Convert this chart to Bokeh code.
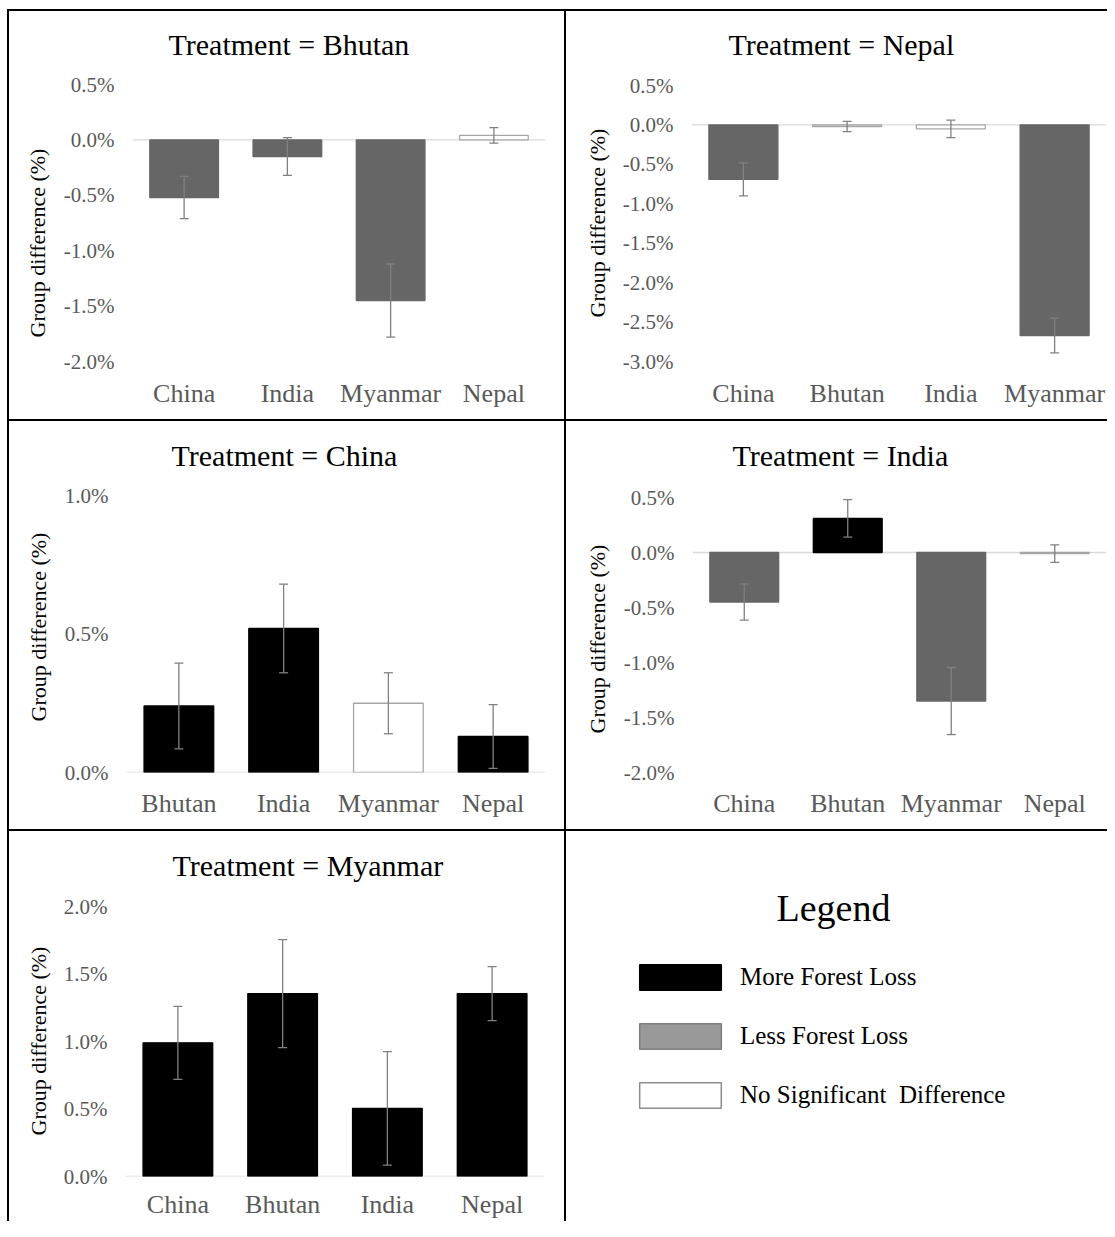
from bokeh.plotting import figure
from bokeh.models import (ColumnDataSource, FactorRange, Range1d, FixedTicker, PrintfTickFormatter,
                          Whisker, TeeHead, Span, Legend, LegendItem, Label, Title, Row, Column)
from bokeh.embed import file_html
from bokeh.resources import INLINE

FONT = "Liberation Serif"

# ---------------- data ----------------
bhutan_cats = ["China", "India", "Myanmar", "Nepal"]
bhutan_vals = [-0.52, -0.15, -1.45, 0.04]
bhutan_err = [0.19, 0.17, 0.33, 0.07]
bhutan_sig = ["less", "less", "less", "none"]
bhutan_ticks = [-2.0, -1.5, -1.0, -0.5, 0.0, 0.5]

nepal_cats = ["China", "Bhutan", "India", "Myanmar"]
nepal_vals = [-0.69, -0.02, -0.05, -2.67]
nepal_err = [0.21, 0.065, 0.11, 0.22]
nepal_sig = ["less", "none", "none", "less"]
nepal_ticks = [-3.0, -2.5, -2.0, -1.5, -1.0, -0.5, 0.0, 0.5]

china_cats = ["Bhutan", "India", "Myanmar", "Nepal"]
china_vals = [0.24, 0.52, 0.25, 0.13]
china_err = [0.155, 0.16, 0.11, 0.115]
china_sig = ["more", "more", "none", "more"]
china_ticks = [0.0, 0.5, 1.0]

india_cats = ["China", "Bhutan", "Myanmar", "Nepal"]
india_vals = [-0.45, 0.31, -1.35, -0.01]
india_err = [0.165, 0.17, 0.305, 0.08]
india_sig = ["less", "more", "less", "none"]
india_ticks = [-2.0, -1.5, -1.0, -0.5, 0.0, 0.5]

myanmar_cats = ["China", "Bhutan", "India", "Nepal"]
myanmar_vals = [0.99, 1.355, 0.505, 1.355]
myanmar_err = [0.27, 0.40, 0.42, 0.20]
myanmar_sig = ["more", "more", "more", "more"]
myanmar_ticks = [0.0, 0.5, 1.0, 1.5, 2.0]

y_title = "Group difference (%)"
legend_labels = ["More Forest Loss", "Less Forest Loss", "No Significant  Difference"]

# ---------------- styles ----------------
FILL = {"more": "#000000", "less": "#666666", "none": "#ffffff"}
LINE = {"more": "#000000", "less": "#666666", "none": "#a6a6a6"}
BORDER = {"box-shadow": "-2px 0 0 0 black, 0 -2px 0 0 black, -2px -2px 0 0 black"}


def panel(title, cats, vals, errs, sig, ticks, w, h, fl, fw, top_px, fbot, tx, ty, yt_off, yt_stand, xls):
    # frame spans from the top of the cell down to fbot; the top tick sits at top_px
    lo, hi = ticks[0], ticks[-1]
    data_h = fbot - top_px
    y_end = hi + top_px / data_h * (hi - lo)
    p = figure(width=w, height=h, output_backend="svg", toolbar_location=None,
               x_range=FactorRange(factors=cats, range_padding=0),
               y_range=Range1d(lo, y_end),
               min_border_left=fl, min_border_right=w - fl - fw,
               min_border_top=0, min_border_bottom=h - fbot)
    p.styles = BORDER
    p.title.visible = False
    p.add_layout(Label(text=title, x=tx, y=ty, x_units="canvas", y_units="canvas",
                       text_font=FONT, text_font_size="30px", text_color="black",
                       text_baseline="middle", text_align="left"))
    p.add_layout(Title(text=y_title, align="left", offset=yt_off, standoff=yt_stand,
                       text_font=FONT, text_font_size="22px", text_font_style="normal",
                       text_color="black"), "left")

    src = ColumnDataSource(dict(
        cat=cats, val=vals,
        upper=[v + e for v, e in zip(vals, errs)],
        lower=[v - e for v, e in zip(vals, errs)],
        fill=[FILL[s] for s in sig], line=[LINE[s] for s in sig]))

    p.add_layout(Span(location=0, dimension="width", line_color="#d9d9d9",
                      line_width=1.3, level="underlay"))
    p.vbar(x="cat", top="val", bottom=0, width=0.665, fill_color="fill",
           line_color="line", line_width=1.3, source=src)
    wh = Whisker(base="cat", upper="upper", lower="lower", source=src,
                 line_color="#808080", line_width=1.3, level="overlay",
                 upper_head=TeeHead(size=9, line_color="#808080", line_width=1.3),
                 lower_head=TeeHead(size=9, line_color="#808080", line_width=1.3))
    p.add_layout(wh)

    p.xgrid.visible = False
    p.ygrid.visible = False
    p.outline_line_color = None
    p.background_fill_color = "white"
    p.border_fill_color = "white"

    ya = p.yaxis[0]
    ya.ticker = FixedTicker(ticks=ticks)
    ya.formatter = PrintfTickFormatter(format="%.1f%%")
    ya.major_label_text_font = FONT
    ya.major_label_text_font_size = "21px"
    ya.major_label_text_color = "#595959"
    ya.major_label_standoff = 18
    ya.major_tick_out = 0
    ya.major_tick_in = 0
    ya.major_tick_line_color = None
    ya.minor_tick_line_color = None
    ya.axis_line_color = None

    xa = p.xaxis[0]
    xa.major_label_text_font = FONT
    xa.major_label_text_font_size = "26px"
    xa.major_label_text_color = "#595959"
    xa.major_label_standoff = xls
    xa.major_tick_out = 0
    xa.major_tick_in = 0
    xa.major_tick_line_color = None
    xa.minor_tick_line_color = None
    xa.axis_line_color = None
    return p


LW, RW = 555, 541
H1, H2, H3 = 408, 408, 390

p1 = panel("Treatment = Bhutan", bhutan_cats, bhutan_vals, bhutan_err, bhutan_sig, bhutan_ticks,
           LW, H1, 123, 413, 73, 350, 159, 33, 24, 21, 17)
p2 = panel("Treatment = Nepal", nepal_cats, nepal_vals, nepal_err, nepal_sig, nepal_ticks,
           RW, H1, 125, 415, 74, 350, 162, 33, 44, 19, 17)
p3 = panel("Treatment = China", china_cats, china_vals, china_err, china_sig, china_ticks,
           LW, H2, 117, 419, 74, 351, 162, 34, 51, 21, 16)
p4 = panel("Treatment = India", india_cats, india_vals, india_err, india_sig, india_ticks,
           RW, H2, 126, 414, 76, 351, 166, 34, 39, 21, 16)
p5 = panel("Treatment = Myanmar", myanmar_cats, myanmar_vals, myanmar_err, myanmar_sig, myanmar_ticks,
           LW, H3, 116, 419, 75, 345, 163, 34, 41, 19, 13)

# ---------------- legend cell ----------------
pl = figure(width=RW, height=H3, output_backend="svg", toolbar_location=None,
            x_axis_location=None, y_axis_location=None,
            x_range=Range1d(0, 1), y_range=Range1d(0, 1),
            min_border_left=0, min_border_right=0, min_border_top=0, min_border_bottom=45)
pl.styles = BORDER
pl.grid.visible = False
pl.outline_line_color = None
pl.title.visible = False
pl.add_layout(Label(text="Legend", x=210, y=76, x_units="canvas", y_units="canvas",
                    text_font=FONT, text_font_size="38px", text_color="black",
                    text_baseline="middle", text_align="left"))

leg_fill = ["#000000", "#999999", "#ffffff"]
leg_line = ["#000000", "#7f7f7f", "#8c8c8c"]
nan = float("nan")
items = []
for lab, fc, lc in zip(legend_labels, leg_fill, leg_line):
    r = pl.quad(left=[nan], right=[nan], top=[nan], bottom=[nan],
                fill_color=fc, line_color=lc, line_width=1.5)
    items.append(LegendItem(label=lab, renderers=[r]))

legend = Legend(items=items, location=(63, 65), orientation="vertical",
                padding=0, margin=0, spacing=27, glyph_width=102, glyph_height=32,
                label_standoff=9, label_text_font=FONT, label_text_font_size="25px",
                label_text_color="black", border_line_color=None, background_fill_alpha=0)
pl.add_layout(legend)

layout = Column(children=[Row(children=[p1, p2], spacing=2),
                          Row(children=[p3, p4], spacing=2),
                          Row(children=[p5, pl], spacing=2)],
                spacing=2, margin=(11, 0, 0, 9))

open("out.html", "w").write(file_html(layout, INLINE, title="Group differences"))
